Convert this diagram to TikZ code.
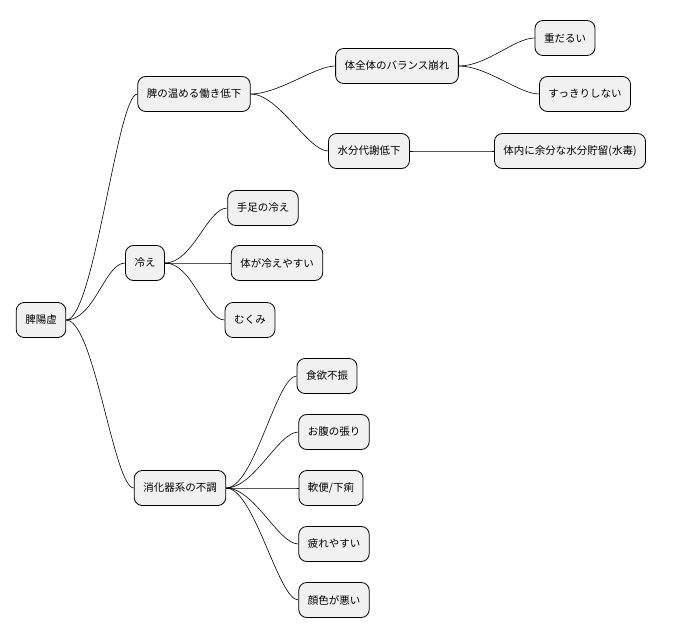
\documentclass[tikz,border=0pt]{standalone}
\usepackage{fontspec}
\setmainfont{Noto Sans CJK JP}
\usetikzlibrary{positioning}

\begin{document}
\begin{tikzpicture}
[x=1pt, y=-1pt, font=\fontsize{10.5}{12}\selectfont,
    every node/.style={fill={rgb,255:red,241;green,241;blue,241},
    rectangle, rounded corners=8pt, minimum height=35pt, inner xsep=9pt,
    draw=black, line width=0.8pt},
    branch/.style={draw=black, line width=0.6pt},
    ]
    \useasboundingbox (0,0) rectangle (681,640);

    \node (root) at (41,320) {脾陽虚};

    \node (warm) at (194,94) {脾の温める働き低下};
    \node (cold) at (145,263) {冷え};
    \node (digest) at (180,488) {消化器系の不調};

    \node (balance) at (397,66) {体全体のバランス崩れ};
    \node (water) at (369,151) {水分代謝低下};
    \node (heavy) at (565,38) {重だるい};
    \node (unclear) at (585,94) {すっきりしない};
    \node (poison) at (570,151) {体内に余分な水分貯留(水毒)};

    \node (limbs) at (263,208) {手足の冷え};
    \node (chill) at (277,263) {体が冷えやすい};
    \node (swell) at (250,320) {むくみ};

    \node (appetite) at (327,376) {食欲不振};
    \node (bloat) at (334,432) {お腹の張り};
    \node (stool) at (331,488) {軟便/下痢};
    \node (tired) at (334,544) {疲れやすい};
    \node (pale) at (334,600) {顔色が悪い};

    % curved branches, parent east to child west
    \foreach \p/\c in {root/warm, root/cold, root/digest,
        warm/balance, warm/water, balance/heavy, balance/unclear,
        water/poison, cold/limbs, cold/chill, cold/swell,
        digest/appetite, digest/bloat, digest/stool, digest/tired, digest/pale}
        \draw[branch] (\p.east) .. controls +(28,0) and +(-20,0) .. (\c.west);

\end{tikzpicture}
\end{document}
